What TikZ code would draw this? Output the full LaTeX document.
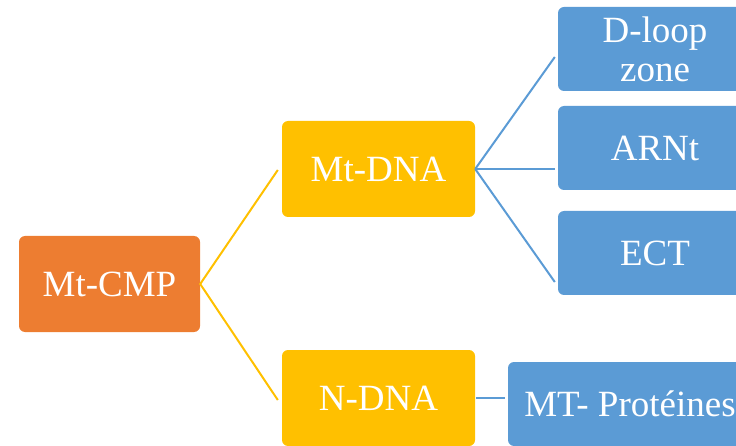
\documentclass[tikz,border=0pt]{standalone}
\usepackage{fontspec}
\setmainfont{Liberation Serif}
\usetikzlibrary{calc}
\definecolor{cmporange}{HTML}{ED7D31}
\definecolor{dnagold}{HTML}{FFC000}
\definecolor{leafblue}{HTML}{5B9BD5}
\tikzset{
  box/.style={rounded corners=6pt, inner sep=0pt, text=white, align=center,
    font=\fontsize{37}{39}\selectfont},
  rootbox/.style={box, fill=cmporange, minimum width=181pt, minimum height=96pt},
  midbox/.style={box, fill=dnagold, minimum width=193pt, minimum height=96pt},
  leafbox/.style={box, fill=leafblue, minimum width=194pt, minimum height=84pt},
  goldline/.style={draw=dnagold, line width=2pt},
  blueline/.style={draw=leafblue, line width=2pt},
}
\begin{document}
\begin{tikzpicture}[x=1pt,y=-1pt]
\useasboundingbox (0,0) rectangle (736,446);
\clip (0,0) rectangle (736,446);
\node[rootbox] (cmp) at (109.5,284) {Mt-CMP};
\node[midbox] (mtdna) at (378.5,169) {Mt-DNA};
\node[midbox] (ndna) at (378.5,398) {N-DNA};
\node[leafbox] (dloop) at (655,49) {D-loop\\zone};
\node[leafbox] (arnt) at (655,148) {ARNt};
\node[leafbox] (ect) at (655,253) {ECT};
\node[leafbox, minimum width=244pt] (prot) at (630,404) {MT- Protéines};
\draw[goldline] ($(mtdna.west)+(-4,1)$) -- (cmp.east) -- ($(ndna.west)+(-4,2)$);
\draw[blueline] (mtdna.east) -- ($(dloop.west)+(-3,8)$);
\draw[blueline] (mtdna.east) -- ($(arnt.west)+(-3,21)$);
\draw[blueline] (mtdna.east) -- ($(ect.west)+(-3,29)$);
\draw[blueline] ($(ndna.east)+(1,0)$) -- ($(prot.west |- ndna.east)+(-3,0)$);
\end{tikzpicture}
\end{document}
